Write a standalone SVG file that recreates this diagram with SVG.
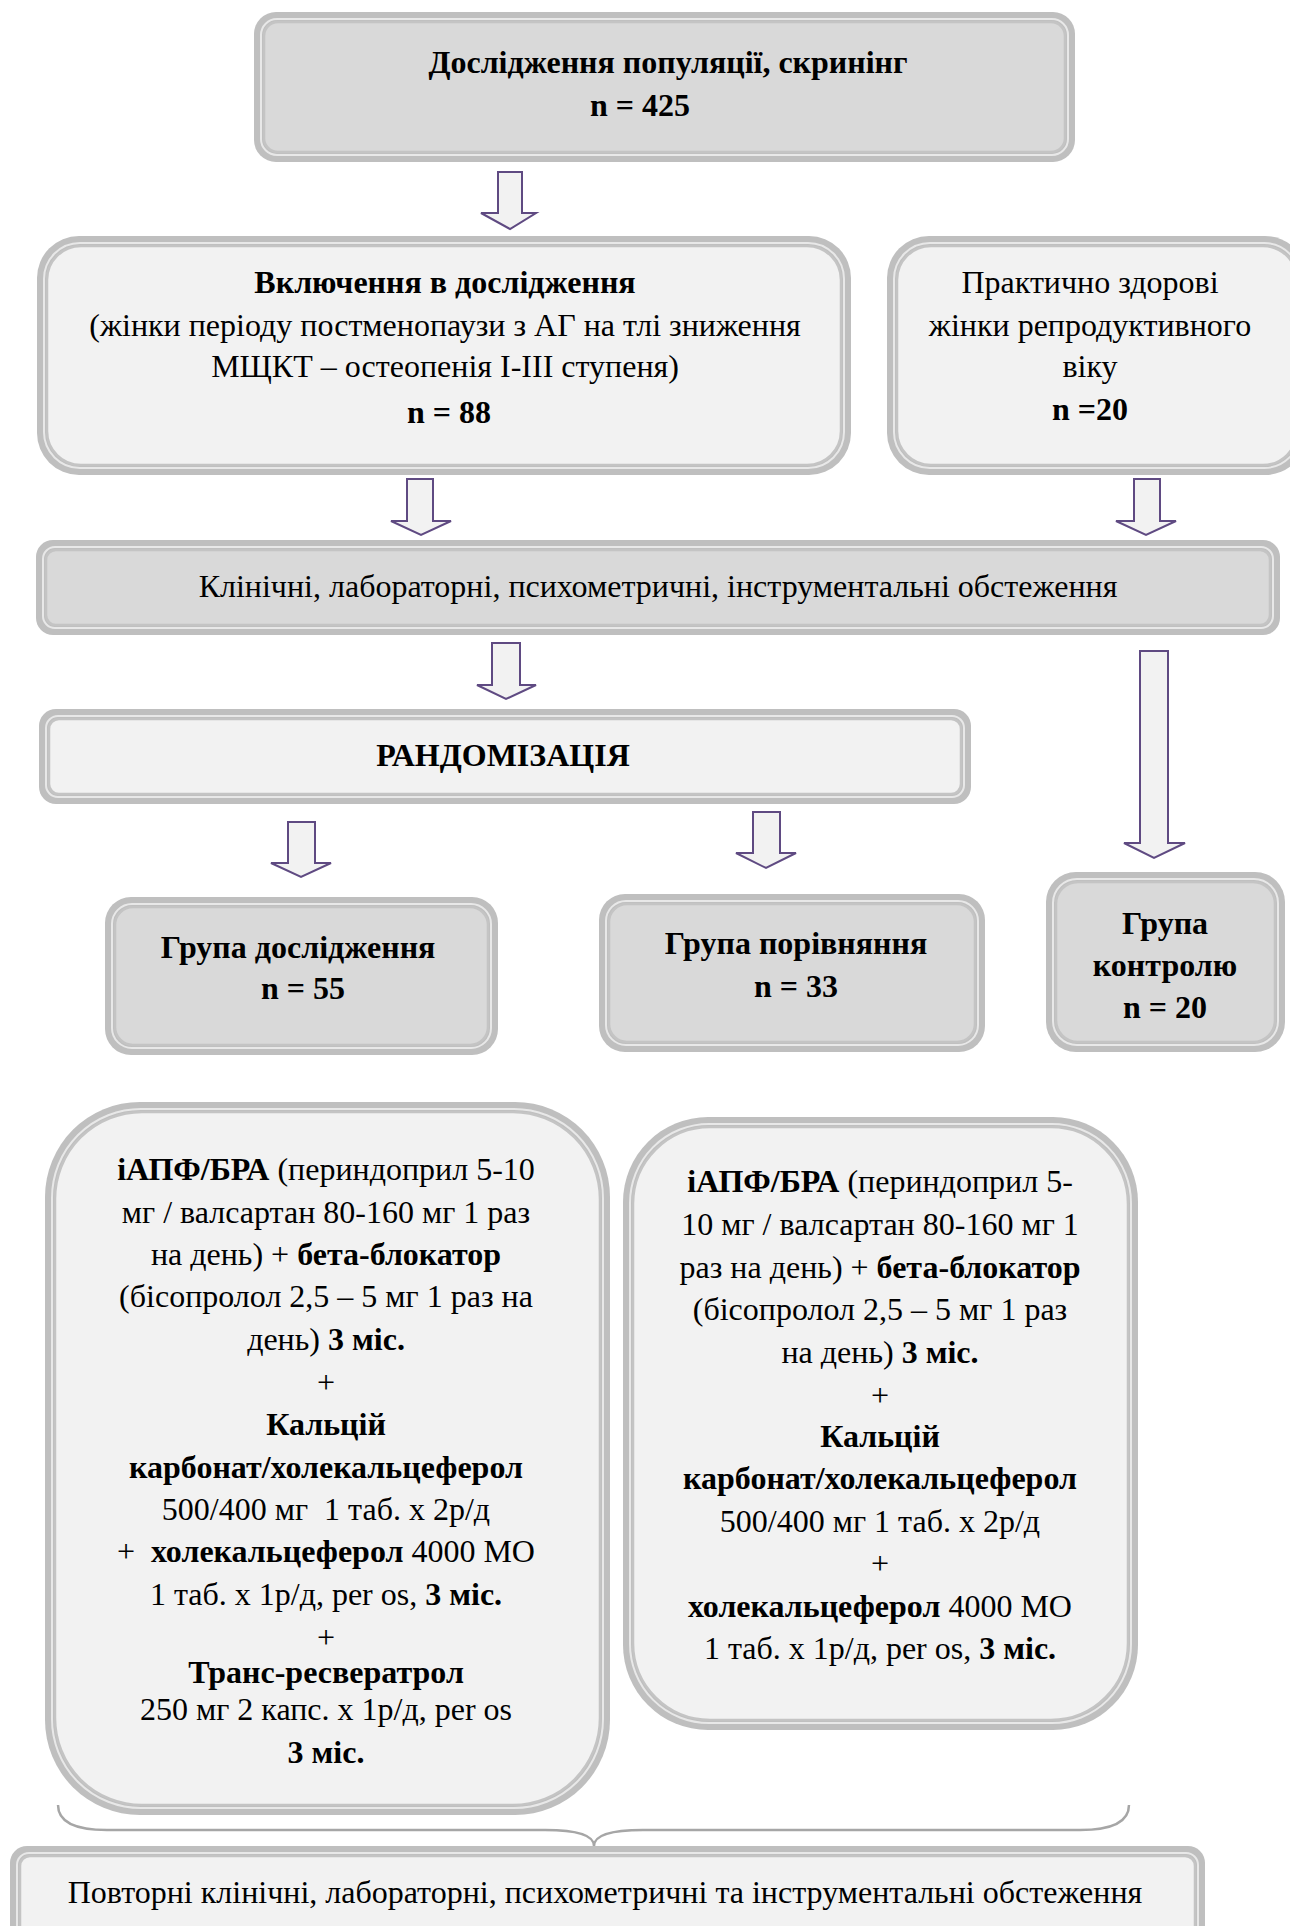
<svg xmlns="http://www.w3.org/2000/svg" width="1290" height="1926" viewBox="0 0 1290 1926">
<style>
text{font-family:"Liberation Serif","Times New Roman",serif;font-size:32px;fill:#000;text-anchor:middle}
.b{font-weight:bold}
.outer{fill:#bfbfbf}
.hl{fill:none;stroke:#e8e8e8;stroke-width:2}
.dk{fill:#d9d9d9;stroke:#c4c4c4;stroke-width:2.5}
.lt{fill:#f2f2f2;stroke:#c4c4c4;stroke-width:2.5}
.arr{fill:#f2f2f2;stroke:#5f4a82;stroke-width:2;stroke-linejoin:miter}
.brace{fill:none;stroke:#a6a6a6;stroke-width:2.5}
</style>
<rect width="1290" height="1926" fill="#ffffff"/>

<g id="connectors">
<path class="arr" d="M498,172 H522 V213 H536 L510,229 L481,213 H498 Z"/>
<path class="arr" d="M407,479 H433 V521 H451 L421,535 L391,521 H407 Z"/>
<path class="arr" d="M1134,479 H1160 V521 H1176 L1146,535 L1116,521 H1134 Z"/>
<path class="arr" d="M492,643 H520 V685 H536 L506,699 L477,685 H492 Z"/>
<path class="arr" d="M1140,651 H1168 V843 H1185 L1154,858 L1124,843 H1140 Z"/>
<path class="arr" d="M288,822 H315 V863 H331 L301,877 L271,863 H288 Z"/>
<path class="arr" d="M753,812 H780 V853 H796 L766,868 L736,853 H753 Z"/>
<path class="brace" d="M58,1805 Q58,1830 107,1830 L545,1830 Q594,1830 594,1846 Q594,1830 643,1830 L1080,1830 Q1129,1830 1129,1805"/>
</g>

<g id="screening">
<rect class="outer" x="254" y="12" width="821" height="150" rx="22"/>
<rect class="hl" x="261" y="19" width="807" height="136" rx="16"/>
<rect class="dk" x="264" y="22" width="801" height="130" rx="14"/>
<text class="b" x="668" y="73">Дослідження популяції, скринінг</text>
<text class="b" x="640" y="116">n = 425</text>
</g>

<g id="inclusion">
<rect class="outer" x="37" y="236" width="814" height="239" rx="42"/>
<rect class="hl" x="44" y="243" width="800" height="225" rx="36"/>
<rect class="lt" x="47" y="246" width="794" height="219" rx="34"/>
<text class="b" x="445" y="293">Включення в дослідження</text>
<text x="445" y="336">(жінки періоду постменопаузи з АГ на тлі зниження</text>
<text x="445" y="377">МЩКТ – остеопенія І-ІІІ ступеня)</text>
<text class="b" x="449" y="423">n = 88</text>
</g>

<g id="healthy">
<rect class="outer" x="887" y="236" width="420" height="239" rx="42"/>
<rect class="hl" x="894" y="243" width="406" height="225" rx="36"/>
<rect class="lt" x="897" y="246" width="400" height="219" rx="34"/>
<text x="1090" y="293">Практично здорові</text>
<text x="1090" y="336">жінки репродуктивного</text>
<text x="1090" y="377">віку</text>
<text class="b" x="1090" y="420">n =20</text>
</g>

<g id="exams">
<rect class="outer" x="36" y="540" width="1244" height="95" rx="17"/>
<rect class="hl" x="43" y="547" width="1230" height="81" rx="12"/>
<rect class="dk" x="46" y="550" width="1224" height="75" rx="10"/>
<text x="658" y="597">Клінічні, лабораторні, психометричні, інструментальні обстеження</text>
</g>

<g id="randomization">
<rect class="outer" x="39" y="709" width="932" height="95" rx="17"/>
<rect class="hl" x="46" y="716" width="918" height="81" rx="12"/>
<rect class="lt" x="49" y="719" width="912" height="75" rx="10"/>
<text class="b" x="503" y="766">РАНДОМІЗАЦІЯ</text>
</g>

<g id="group-study">
<rect class="outer" x="105" y="897" width="393" height="158" rx="26"/>
<rect class="hl" x="112" y="904" width="379" height="144" rx="20"/>
<rect class="dk" x="115" y="907" width="373" height="138" rx="18"/>
<text class="b" x="298" y="958">Група дослідження</text>
<text class="b" x="303" y="999">n = 55</text>
</g>

<g id="group-compare">
<rect class="outer" x="599" y="894" width="386" height="158" rx="26"/>
<rect class="hl" x="606" y="901" width="372" height="144" rx="20"/>
<rect class="dk" x="609" y="904" width="366" height="138" rx="18"/>
<text class="b" x="796" y="954">Група порівняння</text>
<text class="b" x="796" y="997">n = 33</text>
</g>

<g id="group-control">
<rect class="outer" x="1046" y="872" width="239" height="180" rx="30"/>
<rect class="hl" x="1053" y="879" width="225" height="166" rx="24"/>
<rect class="dk" x="1056" y="882" width="219" height="160" rx="22"/>
<text class="b" x="1165" y="934">Група</text>
<text class="b" x="1165" y="976">контролю</text>
<text class="b" x="1165" y="1018">n = 20</text>
</g>

<g id="treatment-study">
<rect class="outer" x="45" y="1102" width="565" height="713" rx="95"/>
<rect class="hl" x="52" y="1109" width="551" height="699" rx="89"/>
<rect class="lt" x="55" y="1112" width="545" height="693" rx="87"/>
<text x="326" y="1180"><tspan class="b">іАПФ/БРА</tspan> (периндоприл 5-10</text>
<text x="326" y="1223">мг / валсартан 80-160 мг 1 раз</text>
<text x="326" y="1265">на день) + <tspan class="b">бета-блокатор</tspan></text>
<text x="326" y="1307">(бісопролол 2,5 – 5 мг 1 раз на</text>
<text x="326" y="1350">день) <tspan class="b">3 міс.</tspan></text>
<text x="326" y="1393">+</text>
<text class="b" x="326" y="1435">Кальцій</text>
<text class="b" x="326" y="1478">карбонат/холекальцеферол</text>
<text x="326" y="1520" xml:space="preserve">500/400 мг  1 таб. х 2р/д</text>
<text x="326" y="1562" xml:space="preserve">+  <tspan class="b">холекальцеферол</tspan> 4000 МО</text>
<text x="326" y="1605">1 таб. х 1р/д, per os, <tspan class="b">3 міс.</tspan></text>
<text x="326" y="1648">+</text>
<text class="b" x="326" y="1683">Транс-ресвератрол</text>
<text x="326" y="1720">250 мг 2 капс. х 1р/д, per os</text>
<text class="b" x="326" y="1763">3 міс.</text>
</g>

<g id="treatment-compare">
<rect class="outer" x="623" y="1117" width="515" height="613" rx="85"/>
<rect class="hl" x="630" y="1124" width="501" height="599" rx="79"/>
<rect class="lt" x="633" y="1127" width="495" height="593" rx="77"/>
<text x="880" y="1192"><tspan class="b">іАПФ/БРА</tspan> (периндоприл 5-</text>
<text x="880" y="1235">10 мг / валсартан 80-160 мг 1</text>
<text x="880" y="1278">раз на день) + <tspan class="b">бета-блокатор</tspan></text>
<text x="880" y="1320">(бісопролол 2,5 – 5 мг 1 раз</text>
<text x="880" y="1363">на день) <tspan class="b">3 міс.</tspan></text>
<text x="880" y="1406">+</text>
<text class="b" x="880" y="1447">Кальцій</text>
<text class="b" x="880" y="1489">карбонат/холекальцеферол</text>
<text x="880" y="1532">500/400 мг 1 таб. х 2р/д</text>
<text x="880" y="1574">+</text>
<text x="880" y="1617"><tspan class="b">холекальцеферол</tspan> 4000 МО</text>
<text x="880" y="1659">1 таб. х 1р/д, per os, <tspan class="b">3 міс.</tspan></text>
</g>

<g id="repeat-exams">
<rect class="outer" x="10" y="1846" width="1195" height="100" rx="17"/>
<rect class="hl" x="17" y="1853" width="1181" height="86" rx="12"/>
<rect class="lt" x="20" y="1856" width="1175" height="80" rx="10"/>
<text x="605" y="1903">Повторні клінічні, лабораторні, психометричні та інструментальні обстеження</text>
</g>
</svg>
